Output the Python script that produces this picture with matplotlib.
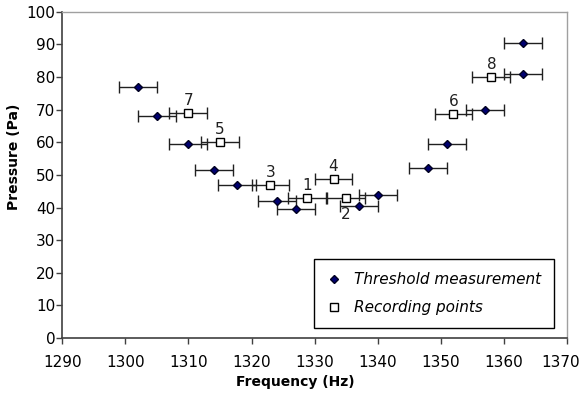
import matplotlib.pyplot as plt
from matplotlib.transforms import ScaledTranslation

plt.rcParams['font.family'] = ['DejaVu Sans']

# Threshold measurements (filled diamonds)
thr_freq = [1302, 1305, 1310, 1314, 1317.7, 1324, 1327, 1337, 1340, 1348, 1351, 1357, 1363, 1363]
thr_pres = [77, 68, 59.5, 51.5, 47, 42, 39.5, 40.5, 44, 52, 59.5, 70, 81, 90.5]

# Recording points (open squares), numbered
rec_freq = [1328.8, 1335, 1323, 1333, 1315, 1352, 1310, 1358]
rec_pres = [43, 43, 47, 48.7, 60, 68.7, 69, 80]
rec_labels = ['1', '2', '3', '4', '5', '6', '7', '8']

freq_err = 3  # Hz, same for every point

fig = plt.figure(figsize=(5.81, 3.94), dpi=100)
ax = fig.add_axes([0.107, 0.142, 0.869, 0.828])

ax.errorbar(thr_freq, thr_pres, xerr=freq_err, fmt='D', color='#000070',
            markeredgecolor='#000020', markersize=4.5, ecolor='#202020',
            elinewidth=1, capsize=4.5, capthick=1, label='Threshold measurement', zorder=3)
ax.errorbar(rec_freq, rec_pres, xerr=freq_err, fmt='s', markerfacecolor='white',
            markeredgecolor='black', markersize=6, ecolor='#202020',
            elinewidth=1, capsize=4.5, capthick=1, label='Recording points', zorder=4)

for f, p, lab in zip(rec_freq, rec_pres, rec_labels):
    if lab == '2':
        ax.annotate(lab, (f, p), xytext=(0, -7), textcoords='offset points',
                    ha='center', va='top', fontsize=11, color='#202020')
    else:
        ax.annotate(lab, (f, p), xytext=(0, 3.5), textcoords='offset points',
                    ha='center', va='bottom', fontsize=11, color='#202020')

ax.set_xlim(1290, 1370)
ax.set_ylim(0, 100)
ax.set_xticks(range(1290, 1371, 10))
ax.set_yticks(range(0, 101, 10))
ax.tick_params(direction='out', length=4, width=1, labelsize=11, color='#404040')
ax.tick_params(axis='x', pad=8)
ax.tick_params(axis='y', pad=1)

# last x label sits a bit left so it fits inside the picture
lbl = ax.get_xticklabels()[-1]
lbl.set_transform(lbl.get_transform() + ScaledTranslation(-0.06, 0, fig.dpi_scale_trans))

for s in ['left', 'bottom']:
    ax.spines[s].set_color('#404040')
    ax.spines[s].set_linewidth(1.2)
for s in ['top', 'right']:
    ax.spines[s].set_color('#a0a0a0')
    ax.spines[s].set_linewidth(1)

ax.set_xlabel('Frequency (Hz)', fontweight='bold', fontsize=10)
ax.set_ylabel('Pressure (Pa)', fontweight='bold', fontsize=10)
ax.xaxis.set_label_coords(0.462, -0.113)
ax.yaxis.set_label_coords(-0.081, 0.555)

# legend without error bars
h1 = plt.Line2D([], [], marker='D', linestyle='none', color='#000070',
                markeredgecolor='#000020', markersize=4.5)
h2 = plt.Line2D([], [], marker='s', linestyle='none', markerfacecolor='white',
                markeredgecolor='black', markersize=6)
leg = ax.legend([h1, h2], ['Threshold measurement', 'Recording points'],
                loc='lower right', bbox_to_anchor=(0.974, 0.031), borderaxespad=0,
                fancybox=False, edgecolor='black', framealpha=1,
                prop={'style': 'italic', 'size': 11},
                borderpad=0.85, handletextpad=0.85, handlelength=0.9, labelspacing=0.85)
leg.get_frame().set_linewidth(1)

fig.savefig('out.png', dpi=100)
